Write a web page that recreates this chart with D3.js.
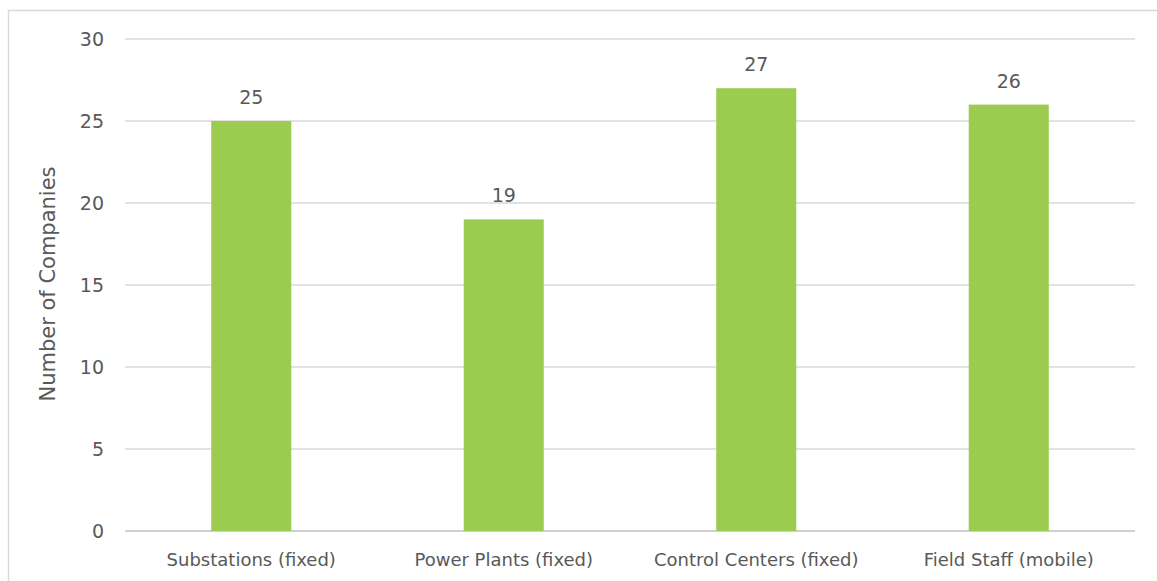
<!DOCTYPE html>
<html><head><meta charset="utf-8">
<script src="https://cdn.jsdelivr.net/npm/d3@7"></script>
<style>body{margin:0;background:#fff}svg{display:block}text{font-family:"DejaVu Sans",sans-serif;fill:#595959}</style>
</head><body><svg id="c" width="1157" height="581"></svg>
<script>
const categories = ["Substations (fixed)", "Power Plants (fixed)", "Control Centers (fixed)", "Field Staff (mobile)"];
const values = [25, 19, 27, 26];
const yTicks = [0, 5, 10, 15, 20, 25, 30];
const yTitle = "Number of Companies";

(function(){
const FF = "'DejaVu Sans', sans-serif";
const svg = d3.select("#c");
svg.append("rect").attr("x",8.5).attr("y",10.5).attr("width",1200).attr("height",620)
  .attr("fill","#fff").attr("stroke","#d9d9d9").attr("stroke-width",1.5);

const pL=125,pR=1135,pT=39,pB=531;
const x = d3.scaleBand().domain(categories).range([pL,pR]).paddingInner(0.683).paddingOuter(0.3415);
const y = d3.scaleLinear().domain([0,30]).range([pB,pT]);

const g = svg.append("g");
g.selectAll("line.grid").data(yTicks).join("line")
  .attr("x1",pL).attr("x2",pR).attr("y1",d=>y(d)).attr("y2",d=>y(d))
  .attr("stroke",d=>d===0?"#d0d0d0":"#d9d9d9").attr("stroke-width",d=>d===0?2:1.5);

const yAxis = d3.axisLeft(y).tickValues(yTicks).tickSize(0).tickPadding(0);
const ya = svg.append("g").attr("transform",`translate(${pL-21},0)`).call(yAxis);
ya.select(".domain").remove();
ya.selectAll("text").attr("font-size",19).style("font-family",FF).attr("fill","#595959").attr("dy","0.36em");

g.selectAll("rect.bar").data(values).join("rect")
  .attr("x",(d,i)=>x(categories[i])).attr("width",x.bandwidth())
  .attr("y",d=>y(d)).attr("height",d=>pB-y(d)).attr("fill","#9BCC4F");

g.selectAll("text.val").data(values).join("text")
  .attr("x",(d,i)=>x(categories[i])+x.bandwidth()/2).attr("y",d=>y(d)-17)
  .attr("text-anchor","middle").attr("font-size",19).style("font-family",FF).text(d=>d);

const xAxis = d3.axisBottom(x).tickSize(0).tickPadding(0);
const xa = svg.append("g").attr("transform",`translate(0,${pB})`).call(xAxis);
xa.select(".domain").remove();
xa.selectAll("text").attr("font-size",18).style("font-family",FF).attr("fill","#595959").attr("dy",null).attr("y",35);

svg.append("text").attr("transform","translate(55,284) rotate(-90)").attr("text-anchor","middle")
  .attr("font-size",21).style("font-family",FF).text(yTitle);
})();
</script></body></html>
